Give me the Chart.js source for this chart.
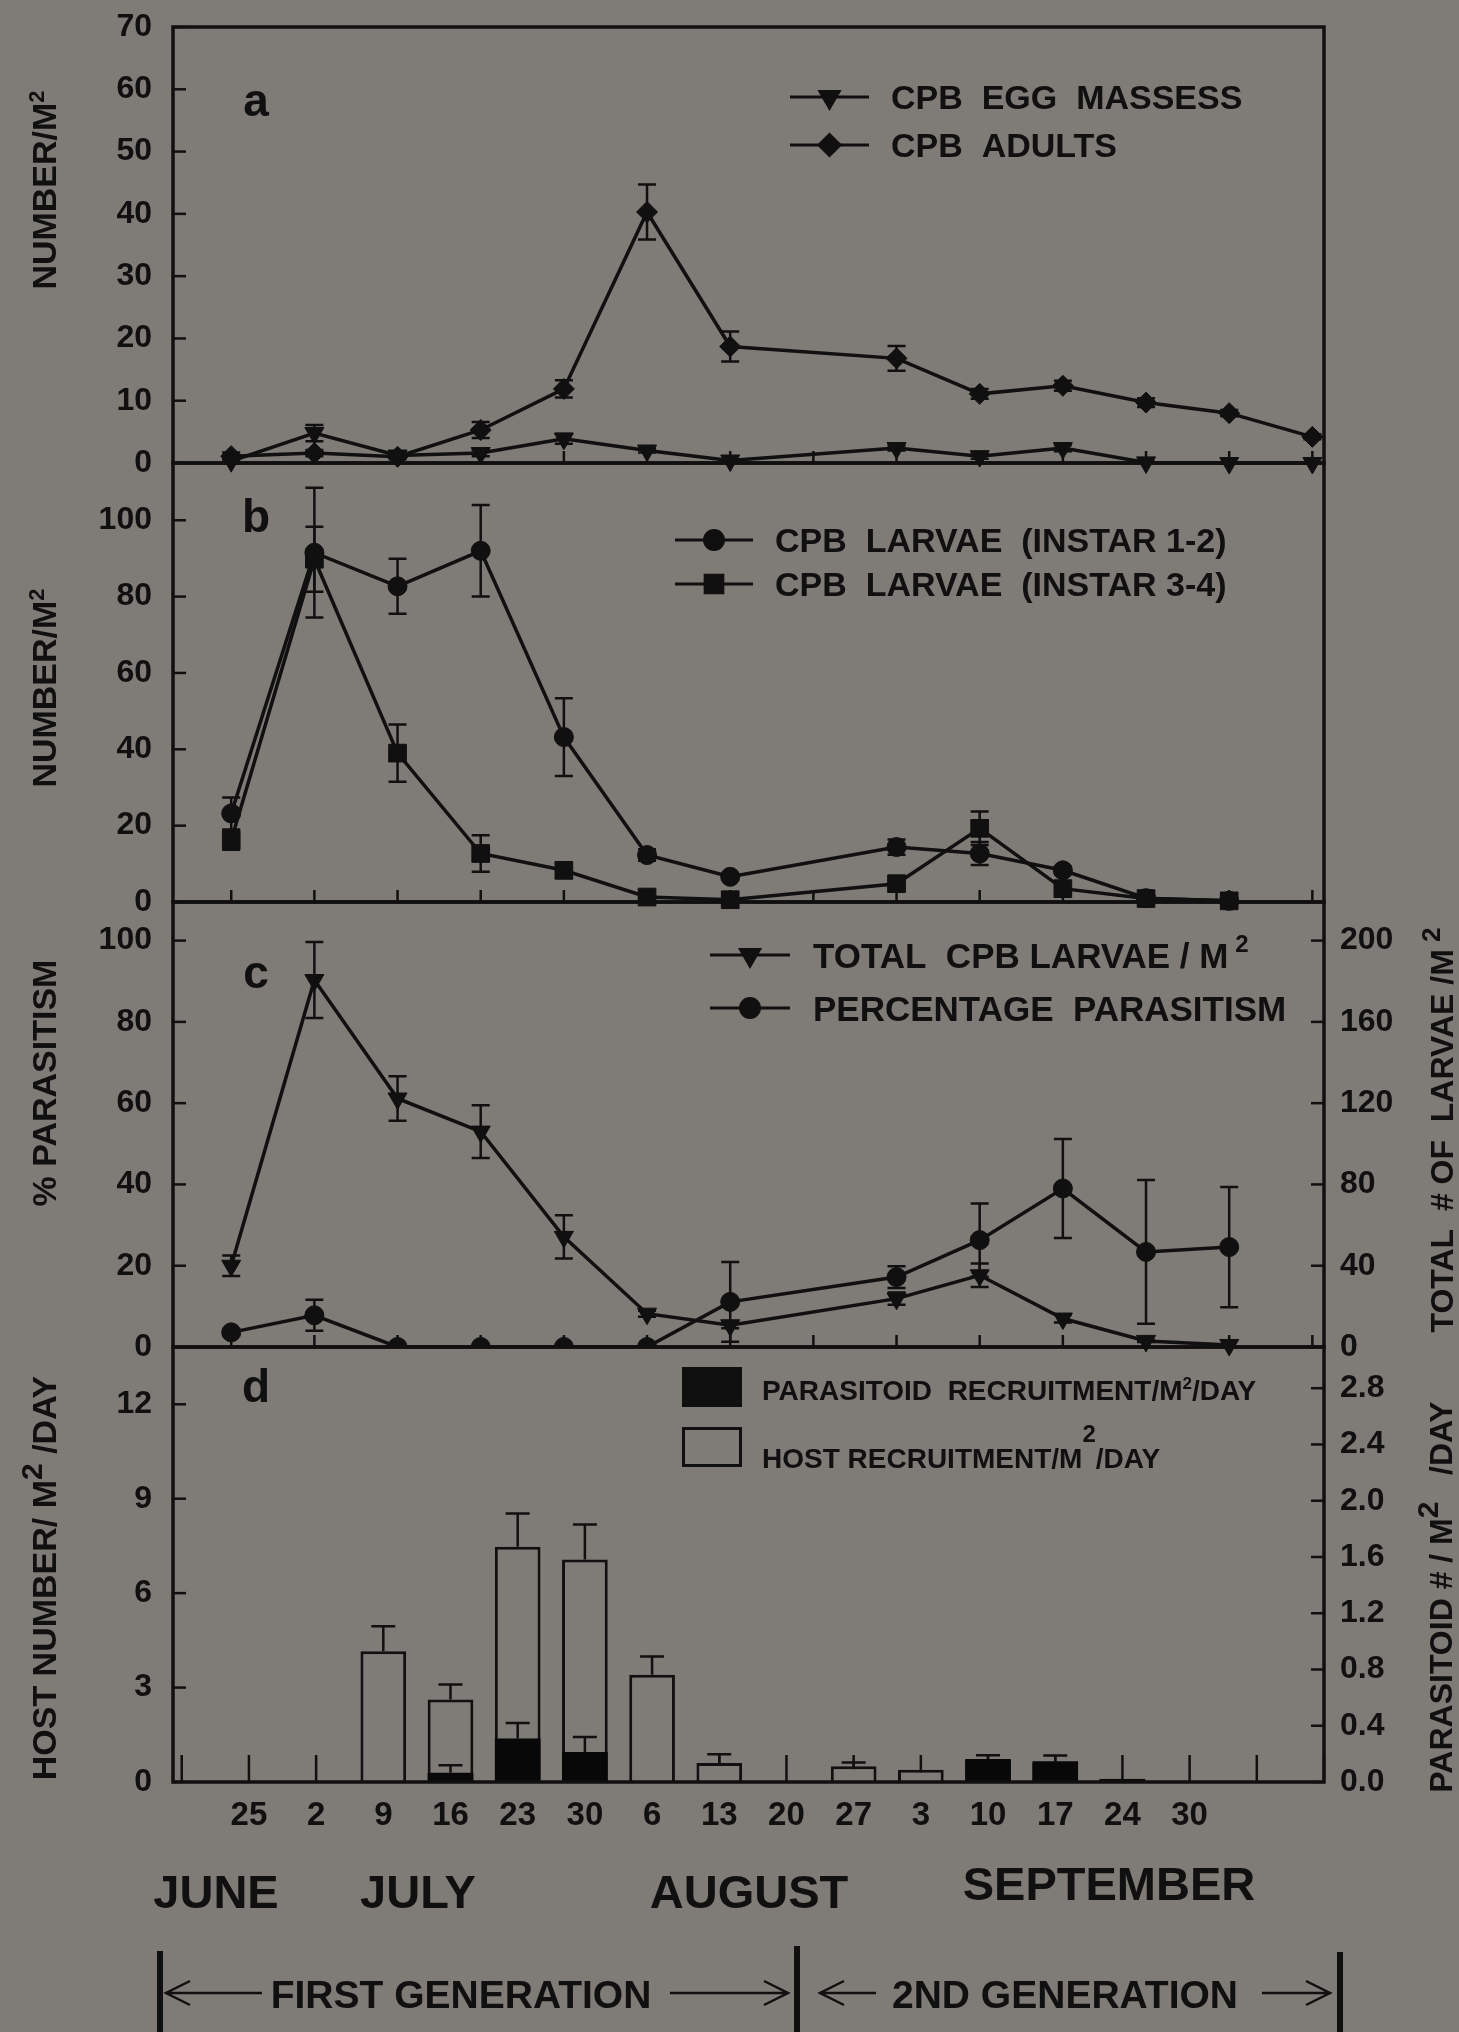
<!DOCTYPE html>
<html>
<head>
<meta charset="utf-8">
<title>CPB populations and parasitism</title>
<script src="https://cdn.jsdelivr.net/npm/chart.js@4.4.1/dist/chart.umd.min.js"></script>
<style>
  html, body { margin: 0; padding: 0; background: #7f7b76; }
  #page { position: relative; width: 1459px; height: 2032px; overflow: hidden; }
  #page canvas { position: absolute; left: 0; top: 0; }
  /* panel a sits high on the page; its canvas is lifted so the top tick label has room */
  #page canvas#panelA { top: -40px; }
</style>
</head>
<body>
<div id="page">
  <canvas id="panelA" width="1459" height="2032"></canvas>
  <canvas id="panelB" width="1459" height="2032"></canvas>
  <canvas id="panelC" width="1459" height="2032"></canvas>
  <canvas id="panelD" width="1459" height="2032"></canvas>
</div>
<script>
// weekly samples for panels a-c (week 7 has no sample)
var sampleWeek = [0, 1, 2, 3, 4, 5, 6, 7, 8, 9, 10, 11, 12, 13];

// a - egg masses and adults per m2 (mean, SE)
var eggMasses   = [0.3, 4.8, 1.2, 1.6, 3.9, 2.0, 0.4, null, 2.4, 1.1, 2.4, 0.1, 0, 0];
var eggMassesSE = [0.4, 1.3, 0.3, 0.5, 0.8, 0.3, 0.2, null, 0.4, 0.4, 0.5, 0.1, 0, 0];
var adults      = [1.1, 1.6, 1.0, 5.3, 11.9, 40.3, 18.7, null, 16.8, 11.1, 12.4, 9.7, 8.0, 4.2];
var adultsSE    = [0.6, 0.5, 0.4, 1.3, 1.4, 4.4, 2.4, null, 2.0, 0.8, 0.8, 0.7, 0.5, 0.4];

// b - larvae per m2 by instar
var instar12   = [23.2, 91.5, 82.7, 92.0, 43.2, 12.3, 6.6, null, 14.4, 12.7, 8.3, 1.0, 0.3, null];
var instar12SE = [4.2, 17.0, 7.2, 12.0, 10.2, 1.5, 0.8, null, 2.0, 3.0, 1.0, 0.5, 0, null];
var instar34   = [16.2, 89.8, 39.0, 12.7, 8.3, 1.3, 0.6, null, 4.8, 19.3, 3.5, 0.9, 0.3, null];
var instar34SE = [2.5, 8.5, 7.5, 4.8, 2.0, 0.5, 0.3, null, 1.0, 4.4, 1.0, 0.3, 0, null];

// c - total larvae per m2 (right axis) and % parasitism (left axis)
var totalLarvae    = [40.0, 180.6, 122.3, 106.0, 54.2, 16.4, 10.7, null, 23.8, 35.3, 14.0, 3.0, 1.0, null];
var totalLarvaeSE  = [5.0, 18.7, 11.0, 13.0, 10.7, 1.5, 1.5, null, 3.0, 5.8, 2.0, 0.5, 0, null];
var parasitism     = [3.6, 7.8, 0, 0, 0, 0, 11.1, null, 17.2, 26.3, 39.0, 23.4, 24.6, null];
var parasitismSE   = [0.8, 3.8, 0, 0, 0, 0, 9.8, null, 2.7, 9.0, 12.2, 17.7, 14.8, null];

// d - recruitment per m2 per day, one bar per sampling date
var dayLabels = ['25', '2', '9', '16', '23', '30', '6', '13', '20', '27', '3', '10', '17', '24', '30'];
var recruitWeek = [0, 1, 2, 3, 4, 5, 6, 7, 8, 9, 10, 11, 12, 13, 14];
var hostRecruit         = [null, null, 4.15, 2.62, 7.47, 7.07, 3.41, 0.60, null, 0.50, 0.39, 0.65, 0.60, 0.10, null];
var hostRecruitSE       = [null, null, 0.80, 0.48, 1.06, 1.11, 0.58, 0.28, null, 0.12, 0, 0, 0, 0, null];
var parasitoidRecruit   = [null, null, 0, 0.065, 0.31, 0.213, 0, 0, null, 0, 0, 0.163, 0.148, 0.02, null];
var parasitoidRecruitSE = [null, null, 0, 0.054, 0.11, 0.107, 0, 0, null, 0, 0, 0.027, 0.04, 0, null];

var INK = '#101010';
var BG = '#7f7b76';
var FONT = "'Liberation Sans', Arial, sans-serif";
var LIFT_A = 40;   // matches the css offset of #panelA

Chart.defaults.font.family = FONT;
Chart.defaults.font.weight = 'bold';
Chart.defaults.color = INK;
Chart.defaults.animation = false;
Chart.defaults.events = [];
Chart.defaults.plugins.legend.display = false;
Chart.defaults.plugins.tooltip.enabled = false;

function font(size) { return 'bold ' + size + 'px ' + FONT; }

function pts(xs, ys) {
  return ys.map(function (v, i) { return { x: xs[i], y: v }; });
}

// text made of pieces with their own size / raise (for superscripts)
function drawRich(ctx, parts, x, y, align) {
  var widths = parts.map(function (p) { ctx.font = font(p.size); return ctx.measureText(p.text).width; });
  var total = widths.reduce(function (a, b) { return a + b; }, 0);
  var cx = align === 'center' ? x - total / 2 : x;
  ctx.textAlign = 'left';
  ctx.textBaseline = 'alphabetic';
  parts.forEach(function (p, k) {
    ctx.font = font(p.size);
    ctx.fillText(p.text, cx, y + (p.dy || 0));
    cx += widths[k];
  });
}

function lineSeries(values, errors, axis, style, radius, rotation, clip) {
  return {
    type: 'line', data: pts(sampleWeek, values), yAxisID: axis,
    borderColor: INK, borderWidth: 3.5, tension: 0, spanGaps: true,
    pointStyle: style, pointRadius: radius, pointRotation: rotation || 0,
    pointBackgroundColor: INK, pointBorderColor: INK, pointBorderWidth: 1,
    clip: clip === undefined ? false : clip,
    errors: errors, errorCap: 9
  };
}

function yAxis(pos, max, step, fmt) {
  var ticks = {
    stepSize: step, includeBounds: false, maxTicksLimit: 100,
    padding: pos === 'left' ? 21 : 16, color: INK,
    font: { family: FONT, size: 32, weight: 'bold' }
  };
  if (fmt) ticks.callback = fmt;
  return {
    type: 'linear', position: pos, min: 0, max: max,
    grid: { display: false, drawTicks: false },
    border: { display: false },
    ticks: ticks,
    afterFit: function (s) { s.width = pos === 'left' ? 173 : 135; }
  };
}

var weekAxis = { type: 'linear', min: -0.7, max: 13.14, offset: false, display: false };

// frame, inward ticks on x and y
function frameTicks(xTickLen) {
  return {
    id: 'frameTicks',
    beforeDatasetsDraw: function (chart) {
      var ctx = chart.ctx, ca = chart.chartArea, sx = chart.scales.x;
      ctx.save();
      ctx.strokeStyle = INK;
      ctx.lineWidth = 2.5;
      for (var v = Math.ceil(sx.min); v <= Math.floor(sx.max); v++) {
        var px = sx.getPixelForValue(v);
        ctx.beginPath();
        ctx.moveTo(px, ca.bottom);
        ctx.lineTo(px, ca.bottom - xTickLen);
        ctx.stroke();
      }
      ctx.restore();
    },
    afterDatasetsDraw: function (chart) {
      var ctx = chart.ctx, ca = chart.chartArea;
      ctx.save();
      ctx.strokeStyle = INK;
      ctx.lineWidth = 2.5;
      ['y', 'yR'].forEach(function (id) {
        var s = chart.scales[id];
        if (!s) return;
        var left = s.position === 'left';
        var x0 = left ? ca.left : ca.right;
        s.ticks.forEach(function (t) {
          var py = s.getPixelForValue(t.value);
          ctx.beginPath();
          ctx.moveTo(x0, py);
          ctx.lineTo(x0 + (left ? 13 : -13), py);
          ctx.stroke();
        });
      });
      ctx.lineWidth = 3.5;
      ctx.strokeRect(ca.left, ca.top, ca.width, ca.height);
      ctx.restore();
    }
  };
}

// mean +/- SE whiskers, read from dataset.errors
var errorBars = {
  id: 'errorBars',
  afterDatasetsDraw: function (chart) {
    var ctx = chart.ctx;
    ctx.save();
    ctx.strokeStyle = INK;
    ctx.lineWidth = 2.5;
    chart.data.datasets.forEach(function (ds, i) {
      if (!ds.errors) return;
      var meta = chart.getDatasetMeta(i), ys = chart.scales[ds.yAxisID], cap = ds.errorCap;
      meta.data.forEach(function (el, j) {
        var v = ds.data[j], e = ds.errors[j];
        v = (v && typeof v === 'object') ? v.y : v;
        if (v == null || !e) return;
        var top = ys.getPixelForValue(v + e);
        var bot = ds.errorUpOnly ? ys.getPixelForValue(v) : ys.getPixelForValue(v - e);
        ctx.beginPath();
        ctx.moveTo(el.x, top); ctx.lineTo(el.x, bot);
        ctx.moveTo(el.x - cap, top); ctx.lineTo(el.x + cap, top);
        if (!ds.errorUpOnly) { ctx.moveTo(el.x - cap, bot); ctx.lineTo(el.x + cap, bot); }
        ctx.stroke();
      });
    });
    ctx.restore();
  }
};

// panel letter, axis titles and the key drawn inside the panel (page coordinates)
function panelText(spec) {
  return {
    id: 'panelText',
    afterDraw: function (chart) {
      var ctx = chart.ctx;
      ctx.save();
      if (spec.lift) ctx.translate(0, spec.lift);
      ctx.fillStyle = INK;
      ctx.strokeStyle = INK;

      ctx.font = font(46);
      ctx.textAlign = 'center';
      ctx.textBaseline = 'alphabetic';
      ctx.fillText(spec.letter[0], spec.letter[1], spec.letter[2]);

      (spec.titles || []).forEach(function (t) {
        ctx.save();
        ctx.translate(t.x, t.y);
        ctx.rotate(-Math.PI / 2);
        drawRich(ctx, t.parts, 0, t.parts[0].size * 0.36, 'center');
        ctx.restore();
      });

      var key = spec.lineKey;
      if (key) {
        key.items.forEach(function (it) {
          var ds = chart.data.datasets[it.dataset];
          ctx.lineWidth = 3;
          ctx.beginPath();
          ctx.moveTo(key.x0, it.y);
          ctx.lineTo(key.x1, it.y);
          ctx.stroke();
          Chart.helpers.drawPoint(ctx, {
            pointStyle: ds.pointStyle, radius: ds.pointRadius,
            rotation: ds.pointRotation, borderWidth: 1
          }, (key.x0 + key.x1) / 2, it.y);
          drawRich(ctx, it.parts, key.textX, it.y + key.size * 0.36, 'left');
        });
      }

      var box = spec.boxKey;
      if (box) {
        box.items.forEach(function (it) {
          if (it.filled) {
            ctx.fillRect(box.x, it.y, box.w, box.h);
          } else {
            ctx.lineWidth = 3;
            ctx.strokeRect(box.x + 1.5, it.y + 1.5, box.w - 3, box.h - 3);
          }
          drawRich(ctx, it.parts, box.textX, it.baseline, 'left');
        });
      }
      ctx.restore();
    }
  };
}

// month names and the generation brackets under the last panel
var pageFooter = {
  id: 'pageFooter',
  afterDraw: function (chart) {
    var ctx = chart.ctx;
    ctx.save();
    ctx.fillStyle = INK;
    ctx.strokeStyle = INK;
    ctx.textAlign = 'center';
    ctx.textBaseline = 'alphabetic';
    ctx.font = font(47);
    [['JUNE', 216, 1908], ['JULY', 418, 1908], ['AUGUST', 749, 1908], ['SEPTEMBER', 1109, 1900]]
      .forEach(function (m) { ctx.fillText(m[0], m[1], m[2]); });

    ctx.font = font(39);
    ctx.fillText('FIRST GENERATION', 461, 2008);
    ctx.fillText('2ND GENERATION', 1065, 2008);

    ctx.fillRect(157, 1951, 6, 81);
    ctx.fillRect(794, 1946, 6, 86);
    ctx.fillRect(1337, 1952, 6, 80);

    function arrow(x0, x1, tipAtStart) {
      var y = 1993, tip = tipAtStart ? x0 : x1, d = tipAtStart ? 24 : -24;
      ctx.lineWidth = 2.5;
      ctx.beginPath();
      ctx.moveTo(x0, y); ctx.lineTo(x1, y);
      ctx.moveTo(tip + d, y - 12); ctx.lineTo(tip, y); ctx.lineTo(tip + d, y + 12);
      ctx.stroke();
    }
    arrow(166, 262, true);
    arrow(670, 788, false);
    arrow(820, 876, true);
    arrow(1262, 1330, false);
    ctx.restore();
  }
};

Chart.register(errorBars);

// a
new Chart(document.getElementById('panelA'), {
  type: 'line',
  data: {
    datasets: [
      lineSeries(eggMasses, eggMassesSE, 'y', 'triangle', 11, 180),
      lineSeries(adults, adultsSE, 'y', 'rectRot', 10.5)
    ]
  },
  options: {
    responsive: false,
    layout: { padding: { top: 27 + LIFT_A, bottom: 2032 - 463 - LIFT_A, left: 0, right: 135 } },
    scales: { x: weekAxis, y: yAxis('left', 70, 10) }
  },
  plugins: [frameTicks(12), panelText({
    lift: LIFT_A,
    letter: ['a', 256, 116],
    titles: [{ x: 44, y: 190, parts: [{ text: 'NUMBER/M', size: 34 }, { text: '2', size: 22, dy: -12 }] }],
    lineKey: {
      x0: 790, x1: 869, textX: 891, size: 34,
      items: [
        { dataset: 0, y: 97, parts: [{ text: 'CPB  EGG  MASSESS', size: 34 }] },
        { dataset: 1, y: 145, parts: [{ text: 'CPB  ADULTS', size: 34 }] }
      ]
    }
  })]
});

// b
new Chart(document.getElementById('panelB'), {
  type: 'line',
  data: {
    datasets: [
      lineSeries(instar12, instar12SE, 'y', 'circle', 9.5),
      lineSeries(instar34, instar34SE, 'y', 'rect', 12.5)
    ]
  },
  options: {
    responsive: false,
    layout: { padding: { top: 463, bottom: 1130, left: 0, right: 135 } },
    scales: { x: weekAxis, y: yAxis('left', 115, 20) }
  },
  plugins: [frameTicks(12), panelText({
    letter: ['b', 256, 532],
    titles: [{ x: 44, y: 688, parts: [{ text: 'NUMBER/M', size: 34 }, { text: '2', size: 22, dy: -12 }] }],
    lineKey: {
      x0: 675, x1: 753, textX: 775, size: 34,
      items: [
        { dataset: 0, y: 540, parts: [{ text: 'CPB  LARVAE  (INSTAR 1-2)', size: 34 }] },
        { dataset: 1, y: 584, parts: [{ text: 'CPB  LARVAE  (INSTAR 3-4)', size: 34 }] }
      ]
    }
  })]
});

// c
new Chart(document.getElementById('panelC'), {
  type: 'line',
  data: {
    datasets: [
      lineSeries(totalLarvae, totalLarvaeSE, 'yR', 'triangle', 11, 180),
      lineSeries(parasitism, parasitismSE, 'y', 'circle', 9.5, 0, true)
    ]
  },
  options: {
    responsive: false,
    layout: { padding: { top: 902, bottom: 685, left: 0, right: 0 } },
    scales: { x: weekAxis, y: yAxis('left', 109.5, 20), yR: yAxis('right', 219, 40) }
  },
  plugins: [frameTicks(12), panelText({
    letter: ['c', 256, 988],
    titles: [
      { x: 44, y: 1083, parts: [{ text: '% PARASITISM', size: 34 }] },
      { x: 1441, y: 1130, parts: [{ text: 'TOTAL  # OF  LARVAE /M', size: 32 }, { text: ' 2', size: 26, dy: -13 }] }
    ],
    lineKey: {
      x0: 710, x1: 790, textX: 813, size: 35,
      items: [
        { dataset: 0, y: 955, parts: [{ text: 'TOTAL  CPB LARVAE / M', size: 35 }, { text: ' 2', size: 24, dy: -16 }] },
        { dataset: 1, y: 1008, parts: [{ text: 'PERCENTAGE  PARASITISM', size: 35 }] }
      ]
    }
  })]
});

// d
new Chart(document.getElementById('panelD'), {
  type: 'bar',
  data: {
    datasets: [
      {
        label: 'HOST RECRUITMENT', data: pts(recruitWeek, hostRecruit), yAxisID: 'y', order: 1,
        backgroundColor: BG, borderColor: INK, borderWidth: 3, grouped: false,
        categoryPercentage: 1, barPercentage: 0.68,
        errors: hostRecruitSE, errorUpOnly: true, errorCap: 12
      },
      {
        label: 'PARASITOID RECRUITMENT', data: pts(recruitWeek, parasitoidRecruit), yAxisID: 'yR', order: 0,
        backgroundColor: '#080808', borderWidth: 0, grouped: false,
        categoryPercentage: 1, barPercentage: 0.68,
        errors: parasitoidRecruitSE, errorUpOnly: true, errorCap: 12
      }
    ]
  },
  options: {
    responsive: false,
    layout: { padding: { top: 1347, bottom: 190, left: 0, right: 0 } },
    scales: {
      x: {
        type: 'linear', min: -1.13, max: 16, offset: false, position: 'bottom',
        grid: { display: false, drawTicks: false },
        border: { display: false },
        ticks: {
          stepSize: 1, maxTicksLimit: 100, includeBounds: false, autoSkip: false, maxRotation: 0,
          padding: 14, color: INK, font: { family: FONT, size: 33, weight: 'bold' },
          callback: function (v) { return dayLabels[v] || ''; }
        },
        afterFit: function (s) { s.height = 60; }
      },
      y: yAxis('left', 13.82, 3),
      yR: yAxis('right', 3.093, 0.4, function (v) { return v.toFixed(1); })
    }
  },
  plugins: [frameTicks(27), panelText({
    letter: ['d', 256, 1402],
    titles: [
      { x: 44, y: 1578, parts: [{ text: 'HOST NUMBER/ M', size: 34 }, { text: '2', size: 30, dy: -14 }, { text: ' /DAY', size: 34 }] },
      { x: 1440, y: 1597, parts: [{ text: 'PARASITOID # / M', size: 32 }, { text: '2', size: 30, dy: -14 }, { text: '   /DAY', size: 32 }] }
    ],
    boxKey: {
      x: 682, w: 60, h: 40, textX: 762,
      items: [
        { filled: true, y: 1367, baseline: 1400,
          parts: [{ text: 'PARASITOID  RECRUITMENT/M', size: 28 }, { text: '2', size: 17, dy: -11 }, { text: '/DAY', size: 28 }] },
        { filled: false, y: 1427, baseline: 1468,
          parts: [{ text: 'HOST RECRUITMENT/M', size: 28 }, { text: '2', size: 24, dy: -26 }, { text: '/DAY', size: 28 }] }
      ]
    }
  }), pageFooter]
});
</script>
</body>
</html>
